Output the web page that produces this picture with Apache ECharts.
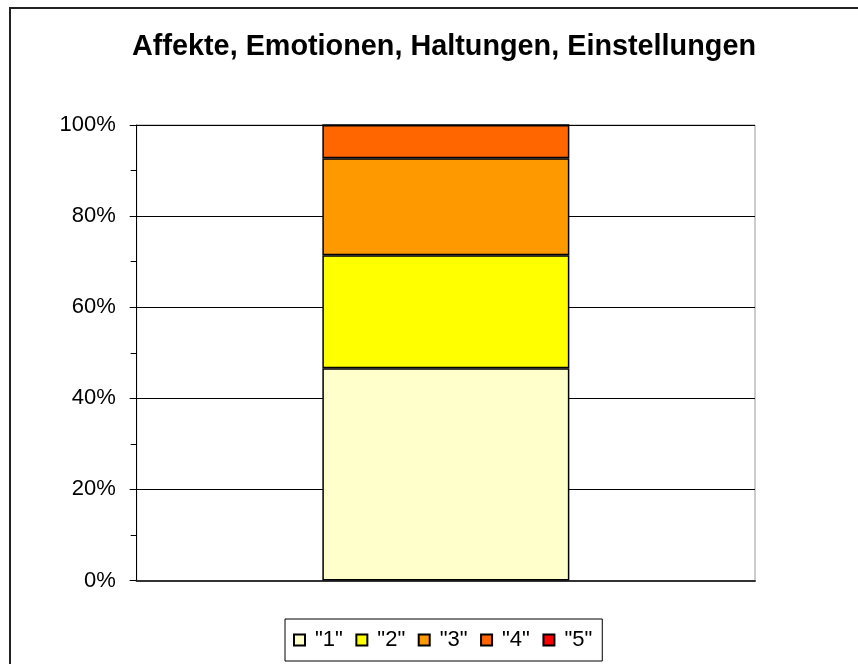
<!DOCTYPE html>
<html>
<head>
<meta charset="utf-8">
<script src="https://cdn.jsdelivr.net/npm/echarts@6/dist/echarts.min.js"></script>
<style>
  html, body { margin: 0; padding: 0; background: #fff; }
  #chart { width: 858px; height: 664px; }
</style>
</head>
<body>
<div id="chart"></div>
<script>
const categories = [''];
const seriesNames = ['"1"', '"2"', '"3"', '"4"', '"5"'];
const shares = [
  [46.6],
  [24.8],
  [21.3],
  [7.3],
  [0]
];
const colors = ['#FFFFCC', '#FFFF00', '#FF9900', '#FF6600', '#FF0000'];
const yTicks = [0, 20, 40, 60, 80, 100];

const font = 'Arial, "Liberation Sans", sans-serif';
const myChart = echarts.init(document.getElementById('chart'));

const option = {
  animation: false,
  backgroundColor: '#fff',
  graphic: [
    {
      type: 'rect',
      shape: { x: 10, y: 8, width: 900, height: 700 },
      style: { fill: 'none', stroke: '#222', lineWidth: 2 },
      silent: true
    },
    {
      type: 'text',
      x: 444,
      y: 33,
      style: {
        text: 'Affekte, Emotionen, Haltungen, Einstellungen',
        fontFamily: font,
        fontWeight: 'bold',
        fontSize: 28.8,
        fill: '#000',
        align: 'center',
        verticalAlign: 'top'
      }
    }
  ],
  grid: {
    left: 136.7,
    right: 103,
    top: 125,
    bottom: 83.5,
    show: true,
    borderColor: '#999',
    borderWidth: 1
  },
  legend: {
    data: seriesNames,
    left: 285,
    top: 619,
    orient: 'horizontal',
    icon: 'rect',
    itemWidth: 11,
    itemHeight: 11,
    itemGap: 12.5,
    padding: [10, 10, 10, 8],
    borderColor: '#000',
    borderWidth: 1,
    textStyle: { fontFamily: font, fontSize: 22, color: '#000', padding: [0, 0, 0, 5] }
  },
  xAxis: {
    type: 'category',
    data: categories,
    axisLine: { lineStyle: { color: '#333', width: 2 } },
    axisTick: { show: false },
    axisLabel: { show: false }
  },
  yAxis: {
    type: 'value',
    min: yTicks[0],
    max: yTicks[yTicks.length - 1],
    interval: 20,
    axisLine: { show: true, lineStyle: { color: '#000', width: 1 } },
    axisTick: { show: true, inside: false, length: 7, lineStyle: { color: '#000' } },
    minorTick: { show: true, splitNumber: 2, length: 6, lineStyle: { color: '#000' } },
    splitLine: { show: true, lineStyle: { color: '#000', width: 1 } },
    axisLabel: {
      formatter: '{value}%',
      fontFamily: font,
      fontSize: 22,
      color: '#000',
      margin: 21
    }
  },
  series: seriesNames.map((name, i) => ({
    name: name,
    type: 'bar',
    stack: 'total',
    barWidth: 247,
    data: shares[i],
    itemStyle: { color: colors[i], borderColor: '#000', borderWidth: 1.5 }
  }))
};

option && myChart.setOption(option);
</script>
</body>
</html>
